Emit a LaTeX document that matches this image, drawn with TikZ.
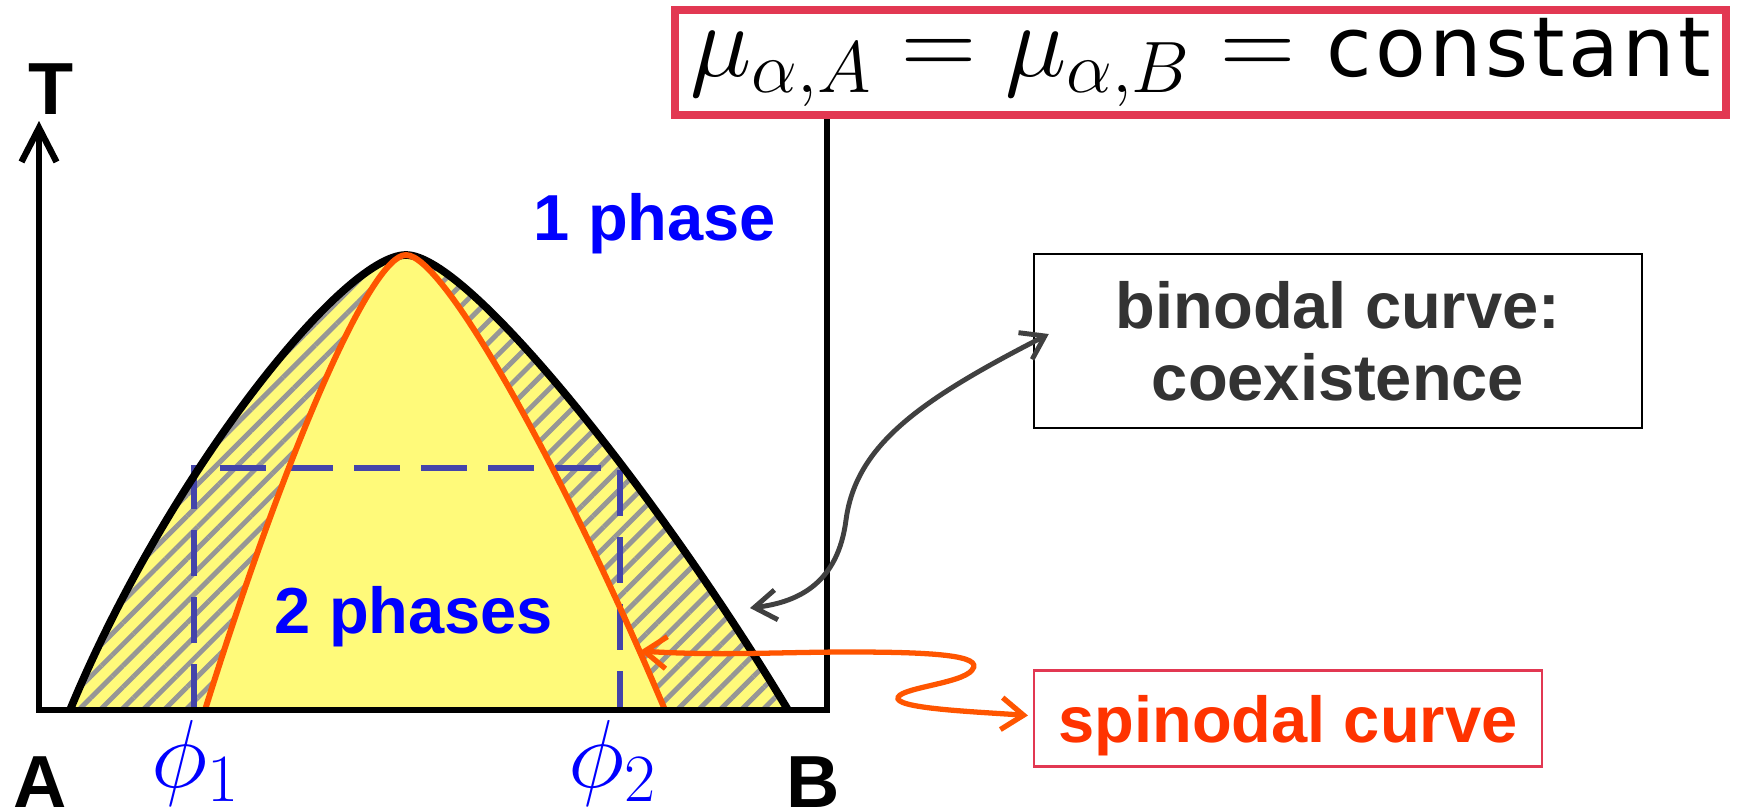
\RequirePackage{fix-cm}
\documentclass[tikz,border=0pt]{standalone}
\usepackage{fontspec}
\setsansfont{Liberation Sans}
\newfontfamily\constfont{DejaVu Sans}[LetterSpace=4]
\usepackage{tikz}
\usetikzlibrary{arrows.meta, patterns.meta, calc}
\definecolor{lemon}{RGB}{255,250,122}
\definecolor{hatchgray}{RGB}{150,150,150}
\definecolor{spinorange}{RGB}{255,85,0}
\definecolor{spintext}{RGB}{255,51,0}
\definecolor{lawred}{RGB}{226,56,82}
\definecolor{guideblue}{RGB}{68,68,170}
\definecolor{linkgray}{RGB}{64,64,64}
\definecolor{bintext}{RGB}{51,51,51}
\tikzset{
    base/.style = {inner sep=0pt, font=\sffamily\bfseries\fontsize{18.5}{20.5}\selectfont},
    % Labels
    phaselabel/.style = {base, text=blue},
    endlabel/.style   = {base, font=\sffamily\bfseries\fontsize{21}{25}\selectfont},
    philabel/.style   = {inner sep=0pt, text=blue, font=\fontsize{27.5}{33}\selectfont},
    % Boxes
    lawbox/.style     = {draw=lawred, line width=2.3pt, minimum width=105.1mm, minimum height=10.5mm,
                         inner sep=0pt, text height=6.2mm, text depth=3.4mm, font=\fontsize{29.6}{35}\selectfont},
    notebox/.style    = {base, draw, line width=0.7pt, align=center},
    binodalbox/.style = {notebox, text=bintext, minimum width=60.8mm, minimum height=17.4mm},
    spinodalbox/.style= {notebox, draw=lawred, line width=0.6pt, text=spintext,
                         minimum width=50.8mm, minimum height=9.6mm, text depth=0pt},
    % Curves and regions
    twophase/.style   = {fill=lemon, postaction={pattern={Lines[angle=45, distance=4.3pt, line width=1.4pt]}, pattern color=hatchgray}},
    binodalline/.style = {draw=black, line width=2.2pt, line join=round},
    spinodalline/.style = {draw=spinorange, line width=1.7pt},
    guide/.style      = {draw=guideblue, line width=1.5pt, dash pattern=on 4.6mm off 2.1mm},
    frameline/.style  = {line width=1.8pt},
    % Connectors
    binlink/.style    = {draw=linkgray, line width=1.4pt, <->, >={Straight Barb[length=2.2mm, width=3mm]}},
    spinlink/.style   = {draw=spinorange, line width=1.5pt, <->, >={Straight Barb[length=2.2mm, width=3.2mm]}}
}

\begin{document}
\begin{tikzpicture}[x=0.1mm, y=-0.1mm]
    \useasboundingbox (0,0) rectangle (1745,810);

    \coordinate (origin) at (39,710);
    \coordinate (ttip) at (39,121);
    \coordinate (wall) at (827,710);
    \coordinate (top) at (406,255);
    \coordinate (bleft) at (70,710);
    \coordinate (bright) at (788,710);
    \coordinate (sleft) at (205,710);
    \coordinate (sright) at (665,710);

    % Two-phase region
    \path[twophase] (bleft) .. controls (165,480) and (342,255) .. (top)
        .. controls (470,255) and (665,505) .. (bright) -- cycle;
    \fill[lemon] (sleft) .. controls (283,460) and (370,255) .. (top)
        .. controls (445,255) and (568,480) .. (sright) -- cycle;

    % Tie box
    \coordinate (p1) at (194,710);
    \coordinate (p2) at (620,710);
    \coordinate (gtop) at (407,468);
    \draw[guide] (p1) |- (gtop) -| (p2);

    \draw[binodalline] (bleft) .. controls (165,480) and (342,255) .. (top)
        .. controls (470,255) and (665,505) .. (bright);
    \draw[spinodalline] (sleft) .. controls (283,460) and (370,255) .. (top)
        .. controls (445,255) and (568,480) .. (sright);

    % Frame
    \node[lawbox] (law) at (1200.5,62.5) {$\mu_{\alpha,A}=\mu_{\alpha,B}=$ {\constfont\fontsize{23.6}{28}\selectfont constant}};
    \draw[frameline, ->, >={Straight Barb[length=3.4mm, width=3.5mm]}] (origin) -- (ttip);
    \draw[frameline] (wall) -- (wall |- law.south);
    \draw[frameline, line width=1.9pt, line cap=rect] (origin) -- (wall);

    \node[endlabel, anchor=base] (tlab) at (51,114) {T};
    \node[endlabel, anchor=base] (alab) at (40,807) {A};
    \node[endlabel, anchor=base] (blab) at (813,807) {B};
    \node[philabel, anchor=base] (phi1) at (196,787) {$\phi_1$};
    \node[philabel, anchor=base] (phi2) at (613,787) {$\phi_2$};
    \node[phaselabel, anchor=base] (one) at (655,240) {1 phase};
    \node[phaselabel, anchor=base] (two) at (414,633) {2 phases};

    % Notes
    \node[binodalbox] (binodal) at (1338,341) {binodal curve:\\coexistence};
    \node[spinodalbox] (spinodal) at (1288,718.5) {spinodal curve};

    \coordinate (bintip) at (750,608);
    \coordinate (spintip) at (640,651);
    \draw[binlink] (bintip) .. controls (800,602) and (838,582) .. (846,520)
        .. controls (856,445) and (920,400) .. ($(binodal.west)+(16,-7)$);
    \draw[spinlink] (spintip) .. controls (720,656) and (780,652) .. (850,652)
        .. controls (930,652) and (985,655) .. (972,670)
        .. controls (962,684) and (895,688) .. (898,699)
        .. controls (902,709) and (980,712) .. ($(spinodal.west)+(-5,-3)$);
\end{tikzpicture}
\end{document}
